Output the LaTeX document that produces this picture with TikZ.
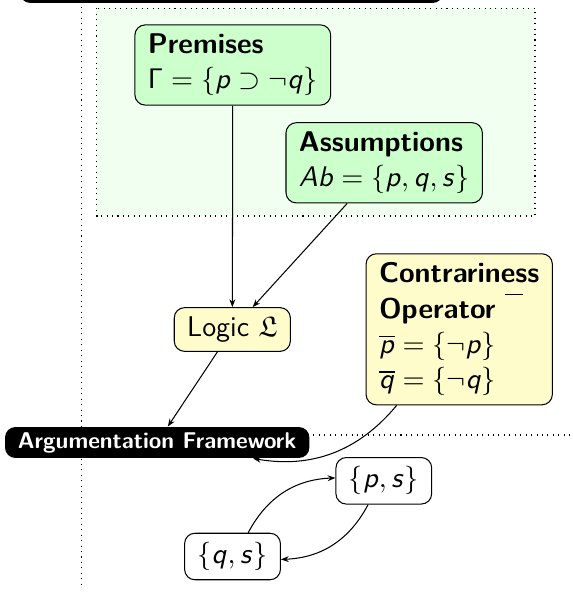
\documentclass[tikz,border=0pt]{standalone}
\usepackage{amssymb}
\usetikzlibrary{arrows.meta}

% sans serif math letters, as on the slide
\DeclareSymbolFont{sfslanted}{OT1}{cmss}{m}{sl}
\DeclareSymbolFont{sfupright}{OT1}{cmss}{m}{n}
\DeclareMathSymbol{p}{\mathalpha}{sfslanted}{`p}
\DeclareMathSymbol{q}{\mathalpha}{sfslanted}{`q}
\DeclareMathSymbol{s}{\mathalpha}{sfslanted}{`s}
\DeclareMathSymbol{A}{\mathalpha}{sfslanted}{`A}
\DeclareMathSymbol{b}{\mathalpha}{sfslanted}{`b}
\DeclareMathSymbol{\Gamma}{\mathalpha}{sfupright}{"00}
\DeclareMathSymbol{=}{\mathrel}{sfupright}{`=}

\tikzset{
  box/.style={draw, rounded corners=4pt, inner xsep=5pt, inner ysep=3.5pt, align=left},
  premise/.style={box, fill=green!20},
  logicbox/.style={box, fill=yellow!20},
  argset/.style={box, fill=white},
  tag/.style={fill=black, text=white, rounded corners=4pt, inner xsep=5pt, inner ysep=2pt,
    font=\fontsize{8.8}{10}\selectfont\sffamily\bfseries},
  region/.style={dash pattern=on 0.4pt off 1.7pt},
}

\begin{document}
\begin{tikzpicture}[x=0.386pt, y=-0.386pt, font=\fontsize{11}{13.6}\selectfont\sffamily, >={Stealth[length=3pt]}]
\useasboundingbox (0,0) rectangle (572,593);
\clip (0,0) rectangle (572,593);
% frames
\fill[rounded corners=4pt] (20,-30) rectangle (443,3);
\filldraw[region, fill=green!6] (96.7,8.3) rectangle (535,216);
\draw[region] (81.7,7) -- (81.7,588);
\draw[region] (308,435) -- (572,435);
% nodes
\node[premise] (prem) at (232.8,65) {\textbf{Premises}\\$\Gamma = \{p \supset \neg q\}$};
\node[premise] (assum) at (384.2,162.8) {\textbf{Assumptions}\\$Ab = \{p, q, s\}$};
\node[logicbox] (logic) at (232.3,329.5) {Logic $\mathfrak{L}$};
\node[logicbox] (contr) at (459.2,329.3) {\textbf{Contrariness}\\\textbf{Operator} $\overline{\rule{0pt}{7.5pt}\hspace{7pt}}$\\$\overline{p} = \{\neg p\}$\\$\overline{q} = \{\neg q\}$};
\node[tag] (af) at (157.2,442.5) {Argumentation Framework};
\node[argset] (ps) at (383.8,480.8) {$\{p, s\}$};
\node[argset] (qs) at (232.5,556.5) {$\{q, s\}$};
% connectors
\draw[->] (prem) -- (logic);
\draw[->] (assum) -- (logic);
\draw[->] (logic) -- (af);
\draw[->] (contr) to[bend left] (af);
\draw[->] (qs) to[bend left] (ps);
\draw[->] (ps) to[bend left] (qs);
\end{tikzpicture}
\end{document}
